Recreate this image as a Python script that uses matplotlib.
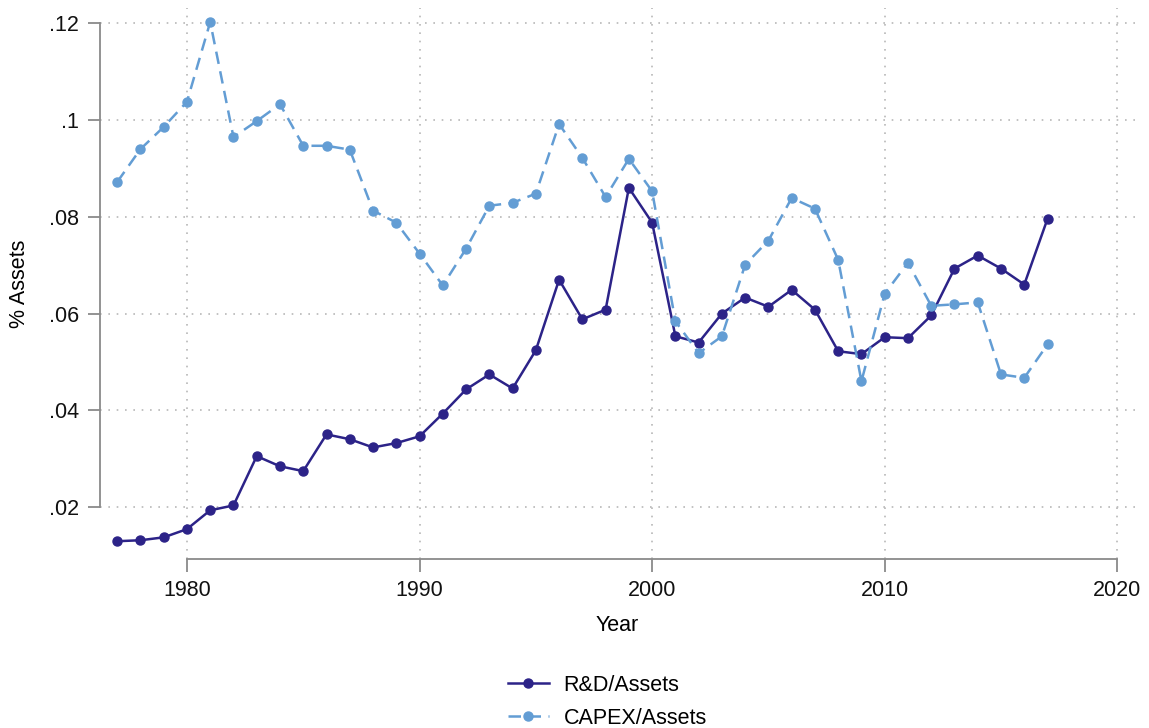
import numpy as np
import matplotlib.pyplot as plt

plt.rcParams['font.family'] = ['Liberation Sans', 'DejaVu Sans']

# dados
anos = np.arange(1977, 2018)

rd_assets = [0.0129, 0.0131, 0.0137, 0.0154, 0.0193, 0.0203, 0.0305, 0.0284, 0.0274, 0.0350,
             0.0340, 0.0323, 0.0332, 0.0346, 0.0393, 0.0443, 0.0474, 0.0445, 0.0524, 0.0670,
             0.0588, 0.0608, 0.0860, 0.0788, 0.0553, 0.0540, 0.0600, 0.0633, 0.0614, 0.0649,
             0.0608, 0.0522, 0.0516, 0.0551, 0.0549, 0.0596, 0.0693, 0.0720, 0.0693, 0.0660,
             0.0796]

capex_assets = [0.0872, 0.0940, 0.0986, 0.1038, 0.1203, 0.0965, 0.0998, 0.1033, 0.0947, 0.0947,
                0.0939, 0.0813, 0.0788, 0.0724, 0.0658, 0.0734, 0.0823, 0.0829, 0.0848, 0.0992,
                0.0922, 0.0841, 0.0920, 0.0853, 0.0584, 0.0518, 0.0553, 0.0701, 0.0751, 0.0839,
                0.0817, 0.0711, 0.0460, 0.0641, 0.0705, 0.0616, 0.0619, 0.0623, 0.0474, 0.0467,
                0.0536]

x_ticks = [1980, 1990, 2000, 2010, 2020]
y_ticks = [0.02, 0.04, 0.06, 0.08, 0.10, 0.12]
y_labels = ['.02', '.04', '.06', '.08', '.1', '.12']

cor_rd = '#2c2388'
cor_capex = '#639dd4'
cor_eixo = '#8a8a8a'

fig = plt.figure(figsize=(11.49, 7.28), dpi=100)
ax = fig.add_axes([0.087, 0.232, 0.901, 0.757])

ax.plot(anos, rd_assets, '-', color=cor_rd, lw=1.8, marker='o', ms=6.5, label='R&D/Assets')
ax.plot(anos, capex_assets, '--', color=cor_capex, lw=1.8, marker='o', ms=6.5,
        dashes=(5, 3), label='CAPEX/Assets')

ax.set_xlim(1976.26, 2020.77)
ax.set_ylim(0.0092, 0.1232)
ax.set_xticks(x_ticks)
ax.set_yticks(y_ticks)
ax.set_yticklabels(y_labels)

# grelha pontilhada
ax.grid(True, color='#b8b8b8', linestyle=(0, (1, 4)), lw=1.2)
ax.set_axisbelow(True)

for s in ['top', 'right']:
    ax.spines[s].set_visible(False)
ax.spines['left'].set_bounds(0.02, 0.12)
ax.spines['bottom'].set_bounds(1980, 2020)
for s in ['left', 'bottom']:
    ax.spines[s].set_color(cor_eixo)
    ax.spines[s].set_linewidth(1.3)

ax.tick_params(axis='both', direction='out', length=9, width=1.3, color=cor_eixo,
               labelsize=15.5, labelcolor='#111111', pad=6)

ax.set_xlabel('Year', fontsize=15.5, labelpad=10)
ax.set_ylabel('% Assets', fontsize=15.5, labelpad=14)

ax.legend(loc='upper center', bbox_to_anchor=(0.49, -0.175), frameon=False, fontsize=15.5,
          handlelength=1.9, labelspacing=0.55, handletextpad=0.7)

plt.savefig('out.png', dpi=100)
